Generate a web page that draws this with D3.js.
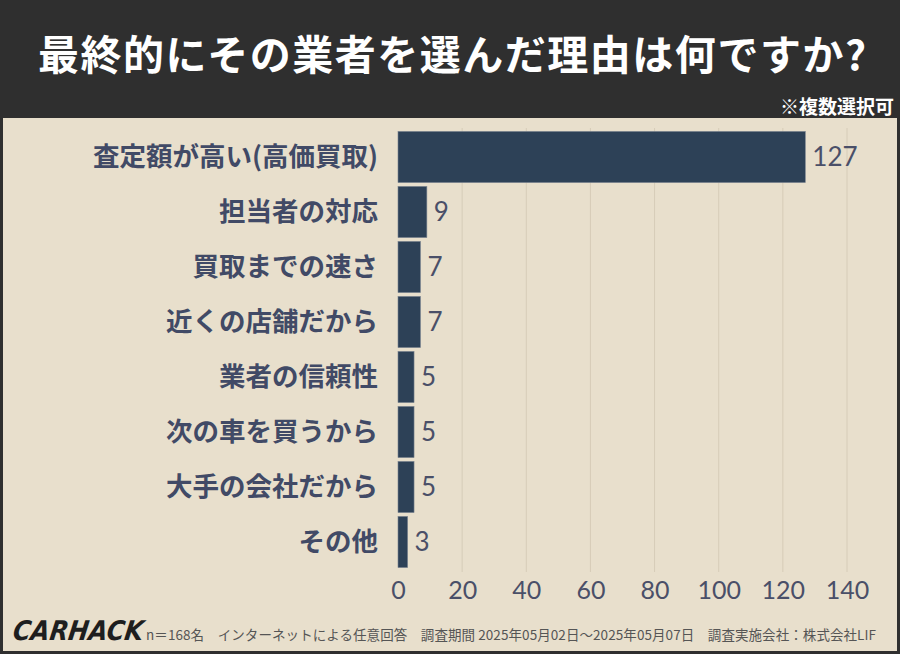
<!DOCTYPE html>
<html><head><meta charset="utf-8">
<script src="https://cdn.jsdelivr.net/npm/d3@7"></script>
<style>body{margin:0;background:#2f2f2f}svg{display:block}</style>
</head><body><svg id="c" width="900" height="654"></svg>
<script>
const categories=["査定額が高い(高価買取)","担当者の対応","買取までの速さ","近くの店舗だから","業者の信頼性","次の車を買うから","大手の会社だから","その他"];
const values=[127,9,7,7,5,5,5,3];
const ticks=[0,20,40,60,80,100,120,140];
const svg=d3.select("#c");
const W=900,H=654;
svg.append("rect").attr("width",W).attr("height",H).attr("fill","#2f2f2f");
svg.append("rect").attr("x",3).attr("y",118).attr("width",W-6).attr("height",H-121).attr("fill","#e8dfcc");
svg.append("text").attr("x",452).attr("y",70).attr("text-anchor","middle").attr("fill","#fff")
 .attr("font-family","Noto Sans CJK JP").attr("font-weight",700).attr("font-size",41).attr("textLength",828).text("最終的にその業者を選んだ理由は何ですか?");
svg.append("text").attr("x",894).attr("y",114).attr("text-anchor","end").attr("fill","#fff")
 .attr("font-family","Noto Sans CJK JP").attr("font-weight",700).attr("font-size",19).text("※複数選択可");
const x=d3.scaleLinear().domain([0,140]).range([398,847]);
const y=d3.scaleBand().domain(categories).range([129.5,569.5]).paddingInner(0.07).paddingOuter(0.035);
svg.append("g").selectAll("line").data(ticks.slice(1)).join("line")
 .attr("x1",d=>x(d)).attr("x2",d=>x(d)).attr("y1",128).attr("y2",572).attr("stroke","#d6ccb8").attr("stroke-width",1);
svg.append("g").selectAll("rect").data(values).join("rect")
 .attr("x",x(0)).attr("y",(d,i)=>y(categories[i])).attr("width",d=>x(d)-x(0)).attr("height",y.bandwidth())
 .attr("fill","#2d4157").attr("stroke","#7a8490").attr("stroke-width",0.6);
svg.append("g").selectAll("text").data(values).join("text")
 .attr("x",d=>x(d)+7).attr("y",(d,i)=>y(categories[i])+y.bandwidth()/2+9)
 .attr("fill","#4a4f68").attr("font-family","Lato").attr("font-size",26).text(d=>d);
svg.append("g").selectAll("text").data(categories).join("text")
 .attr("x",378).attr("y",d=>y(d)+y.bandwidth()/2+9).attr("text-anchor","end")
 .attr("fill","#414a66").attr("font-family","Noto Sans CJK JP").attr("font-weight",700).attr("font-size",26.5).text(d=>d);
const ax=svg.append("g").attr("transform","translate(0,575)").call(d3.axisBottom(x).tickValues(ticks).tickSize(0).tickPadding(6));
ax.select(".domain").remove();
ax.selectAll("text").attr("fill","#4a4f68").attr("font-family","Lato").attr("font-size",25);
svg.append("text").attr("x",12).attr("y",640).attr("fill","#1e1e1e").attr("font-family","Liberation Sans Narrow, DejaVu Sans Condensed").attr("font-style","italic").attr("font-weight",700).attr("font-size",27).attr("transform","skewX(-8) translate(90,0)").text("CARHACK");
svg.append("text").attr("x",146).attr("y",640).attr("fill","#555").attr("font-family","Noto Sans CJK JP").attr("font-size",13.5).attr("textLength",730)
 .text("n＝168名　インターネットによる任意回答　調査期間 2025年05月02日〜2025年05月07日　調査実施会社：株式会社LIF");
</script></body></html>
